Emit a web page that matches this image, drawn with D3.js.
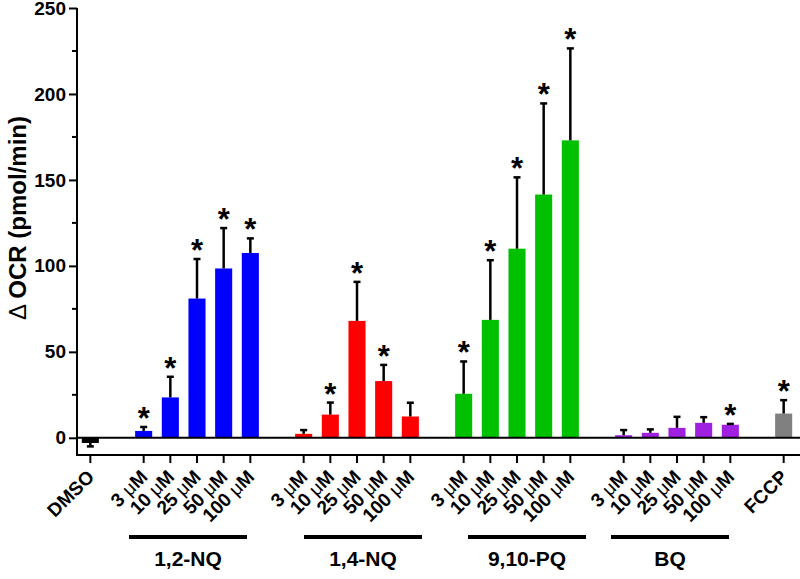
<!DOCTYPE html>
<html>
<head>
<meta charset="utf-8">
<script src="https://cdn.jsdelivr.net/npm/d3@7"></script>
<style>
  body { margin: 0; background: #fff; }
  svg { display: block; font-family: Arial, 'Liberation Sans', sans-serif; }
  .bold { font-weight: bold; }
</style>
</head>
<body>
<svg id="chart" width="800" height="579"></svg>
<script>
// data
var concentrations = ['3', '10', '25', '50', '100']
var groups = ['1,2-NQ', '1,4-NQ', '9,10-PQ', 'BQ']
var groupColors = ['#0000ff', '#ff0000', '#00c000', '#a020e0']

var dmsoMean = -3
var dmsoErr = 2
var nq12Mean = [4, 23.5, 81, 98.5, 107.5]
var nq12Err = [2.3, 12, 23, 23.5, 8.5]
var nq12Sig = [1, 1, 1, 1, 1]
var nq14Mean = [2.3, 13.5, 68, 33, 12.4]
var nq14Err = [2.2, 7, 22.7, 9.4, 8]
var nq14Sig = [0, 1, 1, 1, 0]
var pq910Mean = [25.6, 68.6, 110, 141.5, 173]
var pq910Err = [18.8, 34.7, 41.5, 53, 53.5]
var pq910Sig = [1, 1, 1, 1, 1]
var bqMean = [1.5, 2.9, 5.8, 8.7, 7.6]
var bqErr = [3, 2, 6.4, 3.3, 0.5]
var bqSig = [0, 0, 0, 0, 1]
var fccpMean = 14.1
var fccpErr = 7.8

var yTicks = [0, 50, 100, 150, 200, 250]
var yMinorTicks = [25, 75, 125, 175, 225]

// small hand shifts of the group brackets/labels as drawn in the figure
var groupShift = [-9, 6, 10, -7]

/*
    --------------------------------------
    Build slot list (blank slot between groups)
*/
var means = [nq12Mean, nq14Mean, pq910Mean, bqMean]
var errs = [nq12Err, nq14Err, pq910Err, bqErr]
var sigs = [nq12Sig, nq14Sig, pq910Sig, bqSig]

var bars = [{slot: 0, label: 'DMSO', value: dmsoMean, err: dmsoErr, sig: 0, color: '#000'}]
var slot = 2
groups.forEach(function (g, gi) {
  concentrations.forEach(function (c, ci) {
    bars.push({slot: slot, label: c, unit: true, value: means[gi][ci], err: errs[gi][ci], sig: sigs[gi][ci], color: groupColors[gi], group: gi})
    slot++
  })
  slot++
})
bars.push({slot: slot, label: 'FCCP', value: fccpMean, err: fccpErr, sig: 1, color: '#808080'})
var nSlots = slot + 1

/*
    --------------------------------------
    Scales
*/
var svg = d3.select('#chart')
var plotLeft = 77
var plotRight = 797
var plotTop = 8
var plotBottom = 455

var x = d3.scaleBand()
    .domain(d3.range(nSlots))
    .range([plotLeft, plotRight])
    .paddingInner(0.36)
    .paddingOuter(0.18)

var y = d3.scaleLinear()
    .domain([-10, 250])
    .range([plotBottom, plotTop])

var cx = function (d) { return x(d.slot) + x.bandwidth() / 2 }

/*
    --------------------------------------
    Bars
*/
svg.append('g').selectAll('rect')
    .data(bars)
    .enter()
    .append('rect')
    .attr('x', d => x(d.slot))
    .attr('width', x.bandwidth())
    .attr('y', d => y(Math.max(0, d.value)))
    .attr('height', d => Math.abs(y(d.value) - y(0)))
    .style('fill', d => d.color)

/*
    --------------------------------------
    Error bars (one-sided, away from zero)
*/
var eb = svg.append('g').attr('stroke', '#000').attr('stroke-width', 2.5)
bars.forEach(function (d) {
  var end = d.value >= 0 ? d.value + d.err : d.value - d.err
  eb.append('line')
      .attr('x1', cx(d)).attr('x2', cx(d))
      .attr('y1', y(d.value)).attr('y2', y(end))
  eb.append('line')
      .attr('x1', cx(d) - 3.5).attr('x2', cx(d) + 3.5)
      .attr('y1', y(end)).attr('y2', y(end))
})

/*
    --------------------------------------
    Significance asterisks
*/
svg.append('g').selectAll('text')
    .data(bars.filter(d => d.sig))
    .enter()
    .append('text')
    .attr('x', cx)
    .attr('y', d => y(d.value + d.err) + 2)
    .attr('text-anchor', 'middle')
    .attr('class', 'bold')
    .style('font-size', '31px')
    .text('*')

/*
    --------------------------------------
    Zero line and axes
*/
svg.append('line')
    .attr('x1', plotLeft).attr('x2', 800)
    .attr('y1', y(0)).attr('y2', y(0))
    .attr('stroke', '#000').attr('stroke-width', 2)

var yAxis = svg.append('g')
    .attr('transform', `translate(${plotLeft},0)`)
    .call(d3.axisLeft(y).tickValues(yTicks).tickSize(8).tickPadding(3).tickFormat(d3.format('d')))
yAxis.select('.domain').remove()
yAxis.selectAll('.tick line').attr('stroke-width', 2)
yAxis.selectAll('.tick text')
    .attr('class', 'bold')
    .style('font-size', '19px')
    .attr('fill', '#000')
svg.append('g')
    .selectAll('line')
    .data(yMinorTicks)
    .enter()
    .append('line')
    .attr('x1', plotLeft - 5).attr('x2', plotLeft)
    .attr('y1', d => y(d)).attr('y2', d => y(d))
    .attr('stroke', '#000').attr('stroke-width', 2)
svg.append('line')
    .attr('x1', plotLeft).attr('x2', plotLeft)
    .attr('y1', plotTop).attr('y2', plotBottom + 1)
    .attr('stroke', '#000').attr('stroke-width', 2)

// bottom axis at y = -10
svg.append('line')
    .attr('x1', plotLeft - 1).attr('x2', 800)
    .attr('y1', plotBottom).attr('y2', plotBottom)
    .attr('stroke', '#000').attr('stroke-width', 2)
svg.append('g').selectAll('line')
    .data(bars)
    .enter()
    .append('line')
    .attr('x1', cx).attr('x2', cx)
    .attr('y1', plotBottom).attr('y2', plotBottom + 8)
    .attr('stroke', '#000').attr('stroke-width', 2)

// rotated category labels
var lab = svg.append('g').selectAll('text')
    .data(bars)
    .enter()
    .append('text')
    .attr('transform', d => `translate(${cx(d) + 5},${plotBottom + 23}) rotate(-45)`)
    .attr('text-anchor', 'end')
    .attr('class', 'bold')
    .style('font-size', '19px')
lab.append('tspan').text(d => d.unit ? d.label + ' ' : d.label)
lab.filter(d => d.unit).append('tspan').style('font-weight', 'normal').text('\u03bc')
lab.filter(d => d.unit).append('tspan').text('M')

/*
    --------------------------------------
    Group brackets
*/
groups.forEach(function (g, gi) {
  var gb = bars.filter(d => d.group === gi)
  var mid = (cx(gb[0]) + cx(gb[gb.length - 1])) / 2 + groupShift[gi]
  svg.append('line')
      .attr('x1', mid - 59).attr('x2', mid + 59)
      .attr('y1', 537).attr('y2', 537)
      .attr('stroke', '#000').attr('stroke-width', 4)
  svg.append('text')
      .attr('x', mid)
      .attr('y', 566)
      .attr('text-anchor', 'middle')
      .attr('class', 'bold')
      .style('font-size', '21px')
      .text(g)
})

/*
    --------------------------------------
    Y title
*/
var yt = svg.append('text')
    .attr('transform', 'translate(26,218) rotate(-90)')
    .attr('text-anchor', 'middle')
    .attr('class', 'bold')
    .style('font-size', '24px')
yt.append('tspan').style('font-weight', 'normal').text('\u0394 ')
yt.append('tspan').text('OCR (pmol/min)')
</script>
</body>
</html>
